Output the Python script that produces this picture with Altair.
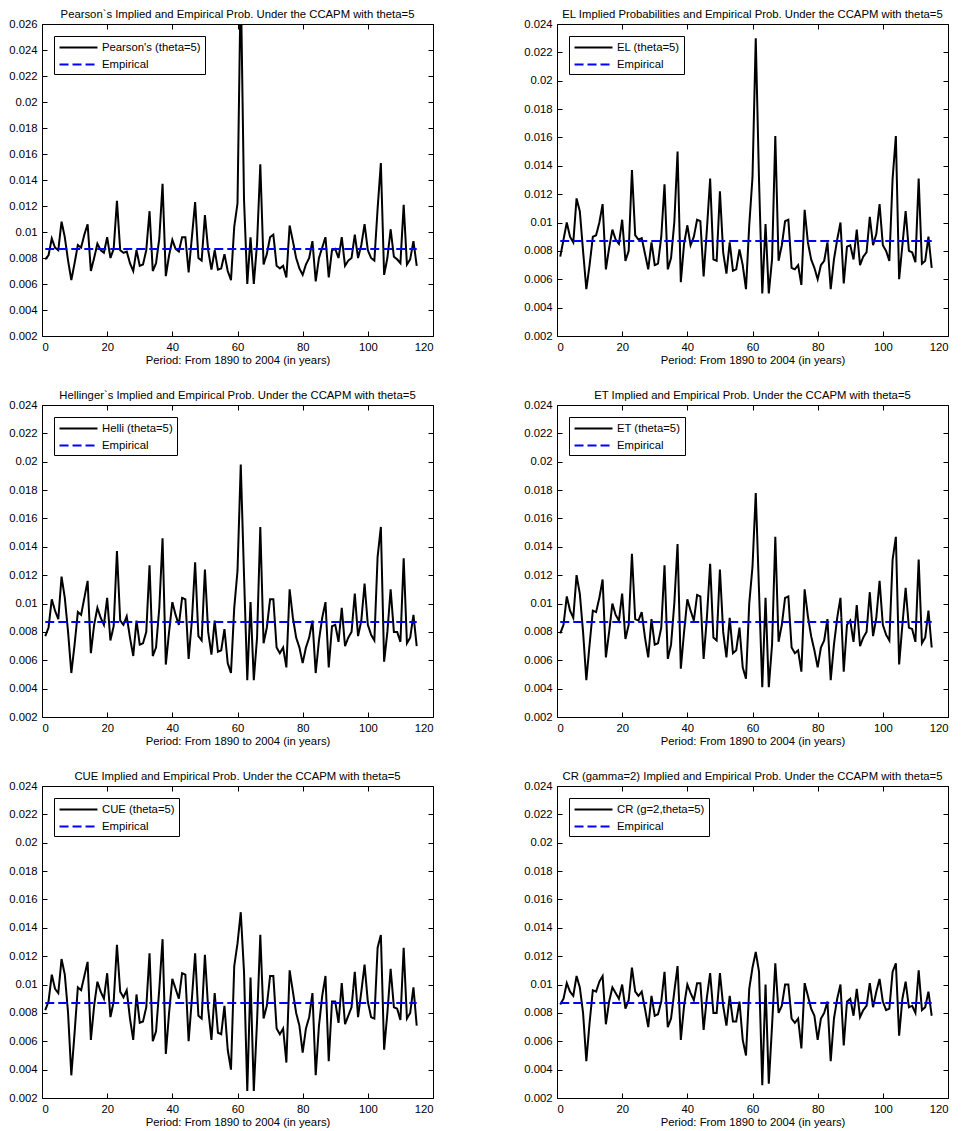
import altair as alt
import pandas as pd

YEARS = list(range(1, 116))
EMP_X = [1, 115]
EMP_P = [0.0087, 0.0087]
X_TICKS = [0, 20, 40, 60, 80, 100, 120]
Y_TICKS_26 = [0.002, 0.004, 0.006, 0.008, 0.010, 0.012, 0.014, 0.016, 0.018, 0.020, 0.022, 0.024, 0.026]
Y_TICKS_24 = Y_TICKS_26[:-1]

PEARSON = [0.0079, 0.0082, 0.0095, 0.0088, 0.0086, 0.0108, 0.0096, 0.0078, 0.0063, 0.0076,
           0.0090, 0.0088, 0.0098, 0.0106, 0.0070, 0.0080, 0.0091, 0.0086, 0.0084, 0.0096,
           0.0080, 0.0087, 0.0124, 0.0086, 0.0084, 0.0085, 0.0076, 0.0070, 0.0086, 0.0074,
           0.0075, 0.0086, 0.0116, 0.0070, 0.0076, 0.0095, 0.0137, 0.0066, 0.0082, 0.0094,
           0.0087, 0.0085, 0.0096, 0.0096, 0.0069, 0.0096, 0.0123, 0.0080, 0.0078, 0.0113,
           0.0086, 0.0071, 0.0086, 0.0071, 0.0072, 0.0083, 0.0070, 0.0063, 0.0104, 0.0122,
           0.0295, 0.0125, 0.0060, 0.0096, 0.0060, 0.0091, 0.0152, 0.0075, 0.0083, 0.0096,
           0.0098, 0.0074, 0.0072, 0.0074, 0.0065, 0.0105, 0.0093, 0.0080, 0.0072, 0.0067,
           0.0075, 0.0080, 0.0093, 0.0062, 0.0080, 0.0088, 0.0096, 0.0065, 0.0086, 0.0087,
           0.0080, 0.0096, 0.0074, 0.0078, 0.0080, 0.0098, 0.0080, 0.0090, 0.0106, 0.0086,
           0.0080, 0.0078, 0.0118, 0.0153, 0.0067, 0.0080, 0.0102, 0.0081, 0.0079, 0.0076,
           0.0121, 0.0075, 0.0079, 0.0093, 0.0074]

EL = [0.0076, 0.0088, 0.0100, 0.0090, 0.0086, 0.0117, 0.0108, 0.0080, 0.0053, 0.0070,
      0.0090, 0.0091, 0.0100, 0.0113, 0.0067, 0.0082, 0.0095, 0.0088, 0.0085, 0.0102,
      0.0073, 0.0080, 0.0137, 0.0091, 0.0088, 0.0089, 0.0078, 0.0067, 0.0086, 0.0070,
      0.0071, 0.0090, 0.0127, 0.0067, 0.0075, 0.0100, 0.0150, 0.0058, 0.0085, 0.0098,
      0.0084, 0.0090, 0.0102, 0.0101, 0.0062, 0.0095, 0.0131, 0.0074, 0.0073, 0.0122,
      0.0079, 0.0064, 0.0086, 0.0066, 0.0067, 0.0081, 0.0070, 0.0053, 0.0098, 0.0132,
      0.0230, 0.0130, 0.0050, 0.0099, 0.0050, 0.0074, 0.0161, 0.0073, 0.0084, 0.0101,
      0.0102, 0.0068, 0.0067, 0.0070, 0.0056, 0.0109, 0.0086, 0.0074, 0.0068, 0.0060,
      0.0070, 0.0073, 0.0086, 0.0053, 0.0074, 0.0088, 0.0100, 0.0057, 0.0083, 0.0084,
      0.0074, 0.0095, 0.0070, 0.0076, 0.0079, 0.0104, 0.0084, 0.0092, 0.0113, 0.0084,
      0.0080, 0.0073, 0.0131, 0.0161, 0.0060, 0.0084, 0.0108, 0.0080, 0.0079, 0.0072,
      0.0131, 0.0071, 0.0073, 0.0090, 0.0068]

HELLI = [0.0077, 0.0083, 0.0103, 0.0095, 0.0089, 0.0119, 0.0104, 0.0080, 0.0051, 0.0071,
         0.0094, 0.0092, 0.0104, 0.0116, 0.0065, 0.0085, 0.0097, 0.0090, 0.0085, 0.0104,
         0.0074, 0.0084, 0.0137, 0.0088, 0.0085, 0.0091, 0.0076, 0.0063, 0.0088, 0.0071,
         0.0072, 0.0080, 0.0127, 0.0063, 0.0069, 0.0097, 0.0146, 0.0057, 0.0080, 0.0101,
         0.0092, 0.0085, 0.0104, 0.0103, 0.0061, 0.0088, 0.0129, 0.0077, 0.0074, 0.0124,
         0.0080, 0.0064, 0.0088, 0.0066, 0.0067, 0.0082, 0.0058, 0.0051, 0.0097, 0.0123,
         0.0198, 0.0120, 0.0046, 0.0101, 0.0046, 0.0076, 0.0154, 0.0072, 0.0083, 0.0103,
         0.0103, 0.0069, 0.0065, 0.0069, 0.0055, 0.0110, 0.0090, 0.0076, 0.0069, 0.0058,
         0.0069, 0.0076, 0.0088, 0.0051, 0.0074, 0.0090, 0.0101, 0.0055, 0.0084, 0.0085,
         0.0073, 0.0097, 0.0070, 0.0076, 0.0080, 0.0107, 0.0077, 0.0088, 0.0114, 0.0085,
         0.0078, 0.0074, 0.0133, 0.0154, 0.0059, 0.0080, 0.0110, 0.0080, 0.0080, 0.0073,
         0.0132, 0.0072, 0.0076, 0.0092, 0.0070]

ET = [0.0079, 0.0085, 0.0105, 0.0095, 0.0090, 0.0120, 0.0107, 0.0080, 0.0046, 0.0071,
      0.0095, 0.0094, 0.0104, 0.0117, 0.0062, 0.0080, 0.0100, 0.0092, 0.0088, 0.0107,
      0.0075, 0.0085, 0.0135, 0.0089, 0.0088, 0.0094, 0.0076, 0.0062, 0.0089, 0.0071,
      0.0072, 0.0083, 0.0127, 0.0061, 0.0071, 0.0100, 0.0142, 0.0054, 0.0080, 0.0103,
      0.0095, 0.0088, 0.0106, 0.0105, 0.0061, 0.0090, 0.0128, 0.0076, 0.0074, 0.0124,
      0.0080, 0.0062, 0.0090, 0.0065, 0.0067, 0.0083, 0.0055, 0.0047, 0.0100, 0.0126,
      0.0178, 0.0109, 0.0041, 0.0104, 0.0041, 0.0071, 0.0147, 0.0073, 0.0085, 0.0104,
      0.0105, 0.0069, 0.0065, 0.0067, 0.0052, 0.0110, 0.0091, 0.0077, 0.0067, 0.0055,
      0.0069, 0.0074, 0.0089, 0.0046, 0.0071, 0.0090, 0.0104, 0.0052, 0.0085, 0.0088,
      0.0073, 0.0099, 0.0070, 0.0076, 0.0080, 0.0108, 0.0077, 0.0090, 0.0116, 0.0085,
      0.0078, 0.0074, 0.0131, 0.0147, 0.0057, 0.0085, 0.0111, 0.0083, 0.0082, 0.0073,
      0.0131, 0.0072, 0.0076, 0.0095, 0.0069]

CUE = [0.0082, 0.0088, 0.0107, 0.0097, 0.0094, 0.0118, 0.0107, 0.0080, 0.0036, 0.0066,
       0.0098, 0.0096, 0.0106, 0.0116, 0.0061, 0.0085, 0.0102, 0.0095, 0.0090, 0.0108,
       0.0077, 0.0088, 0.0128, 0.0095, 0.0091, 0.0096, 0.0076, 0.0061, 0.0093, 0.0073,
       0.0074, 0.0084, 0.0122, 0.0060, 0.0067, 0.0097, 0.0132, 0.0051, 0.0080, 0.0104,
       0.0097, 0.0090, 0.0108, 0.0107, 0.0060, 0.0090, 0.0122, 0.0078, 0.0076, 0.0121,
       0.0083, 0.0061, 0.0094, 0.0066, 0.0065, 0.0085, 0.0054, 0.0040, 0.0113, 0.0129,
       0.0151, 0.0109, 0.0025, 0.0105, 0.0025, 0.0074, 0.0135, 0.0076, 0.0085, 0.0106,
       0.0106, 0.0069, 0.0065, 0.0069, 0.0045, 0.0110, 0.0095, 0.0080, 0.0071, 0.0052,
       0.0069, 0.0077, 0.0094, 0.0036, 0.0071, 0.0092, 0.0106, 0.0046, 0.0088, 0.0088,
       0.0073, 0.0101, 0.0072, 0.0078, 0.0084, 0.0109, 0.0077, 0.0095, 0.0114, 0.0088,
       0.0077, 0.0076, 0.0126, 0.0135, 0.0054, 0.0080, 0.0111, 0.0084, 0.0083, 0.0075,
       0.0126, 0.0076, 0.0080, 0.0098, 0.0071]

CR = [0.0086, 0.0090, 0.0101, 0.0095, 0.0092, 0.0106, 0.0098, 0.0080, 0.0046, 0.0073,
      0.0096, 0.0095, 0.0102, 0.0106, 0.0072, 0.0088, 0.0098, 0.0094, 0.0090, 0.0100,
      0.0083, 0.0089, 0.0112, 0.0095, 0.0092, 0.0095, 0.0083, 0.0070, 0.0092, 0.0078,
      0.0079, 0.0088, 0.0109, 0.0070, 0.0076, 0.0095, 0.0113, 0.0061, 0.0085, 0.0100,
      0.0094, 0.0089, 0.0101, 0.0101, 0.0068, 0.0091, 0.0108, 0.0080, 0.0080, 0.0108,
      0.0085, 0.0071, 0.0092, 0.0074, 0.0074, 0.0088, 0.0061, 0.0050, 0.0097, 0.0112,
      0.0123, 0.0109, 0.0029, 0.0100, 0.0030, 0.0071, 0.0115, 0.0080, 0.0085, 0.0100,
      0.0100, 0.0076, 0.0073, 0.0076, 0.0055, 0.0101, 0.0092, 0.0083, 0.0078, 0.0061,
      0.0076, 0.0080, 0.0088, 0.0046, 0.0076, 0.0090, 0.0100, 0.0057, 0.0088, 0.0090,
      0.0078, 0.0097, 0.0077, 0.0082, 0.0085, 0.0101, 0.0084, 0.0095, 0.0104, 0.0088,
      0.0082, 0.0083, 0.0109, 0.0115, 0.0064, 0.0090, 0.0102, 0.0084, 0.0085, 0.0080,
      0.0110, 0.0082, 0.0084, 0.0095, 0.0078]

PANELS = [
    ("Pearson`s Implied and Empirical Prob. Under the CCAPM with theta=5", "Pearson's (theta=5)", PEARSON, Y_TICKS_26),
    ("EL Implied Probabilities and Empirical Prob. Under the CCAPM with theta=5", "EL (theta=5)", EL, Y_TICKS_24),
    ("Hellinger`s Implied and Empirical Prob. Under the CCAPM with theta=5", "Helli (theta=5)", HELLI, Y_TICKS_24),
    ("ET Implied and Empirical Prob. Under the CCAPM with theta=5", "ET (theta=5)", ET, Y_TICKS_24),
    ("CUE Implied and Empirical Prob. Under the CCAPM with theta=5", "CUE (theta=5)", CUE, Y_TICKS_24),
    ("CR (gamma=2) Implied and Empirical Prob. Under the CCAPM with theta=5", "CR (g=2,theta=5)", CR, Y_TICKS_24),
]

FONT = "Liberation Sans"
FS = 11.3
X_TITLE = "Period: From 1890 to 2004 (in years)"
W, H = 391, 312


def panel(title, label, values, yticks):
    df = pd.DataFrame({
        "t": YEARS + EMP_X,
        "p": values + EMP_P,
        "s": [label] * len(YEARS) + ["Empirical"] * len(EMP_X),
        "k": list(range(len(YEARS))) + [1000, 1001],
    })
    xs = alt.Scale(domain=[0, 120], nice=False)
    ys = alt.Scale(domain=[yticks[0], yticks[-1]], nice=False, zero=False)
    leg = alt.Legend(title=None, orient="top-left", offset=12, symbolType="M-3,0H3",
                     symbolSize=160, symbolStrokeWidth=2, symbolOffset=13,
                     labelFontSize=FS, labelFont=FONT, labelOffset=16,
                     labelColor="black", strokeColor="black", fillColor="white",
                     padding=4, rowPadding=4, cornerRadius=0)
    lines = alt.Chart(df).mark_line(strokeWidth=2, clip=True).encode(
        x=alt.X("t:Q", scale=xs, axis=alt.Axis(values=X_TICKS, title=X_TITLE, tickSize=5,
                                                  offset=-5, labelPadding=5, titlePadding=2,
                                                  grid=False)),
        y=alt.Y("p:Q", scale=ys, axis=alt.Axis(values=yticks, format="~g", title=None,
                                                  tickSize=5, offset=-5, labelPadding=5,
                                                  grid=False, minExtent=37, maxExtent=37)),
        color=alt.Color("s:N", scale=alt.Scale(domain=[label, "Empirical"], range=["black", "blue"]),
                        legend=leg),
        strokeDash=alt.StrokeDash("s:N", scale=alt.Scale(domain=[label, "Empirical"],
                                                           range=[[1, 0], [9, 4]]), legend=leg),
        order="k:Q",
    )
    frame = alt.Chart(df).mark_line(opacity=0, clip=True).encode(
        x=alt.X("t:Q", scale=xs, axis=alt.Axis(values=X_TICKS, orient="top", labels=False,
                                                  title=None, tickSize=5, offset=-5, grid=False,
                                                  minExtent=0, maxExtent=0)),
        y=alt.Y("p:Q", scale=ys, axis=alt.Axis(values=yticks, orient="right", labels=False,
                                                  title=None, tickSize=5, offset=-5, grid=False,
                                                  minExtent=0, maxExtent=0)),
    )
    return alt.layer(lines, frame).resolve_axis(x="independent", y="independent").resolve_scale(
        color="independent", strokeDash="independent").properties(
        width=W, height=H, title=alt.TitleParams(title, fontSize=FS, font=FONT,
                                                 fontWeight="normal", color="black", offset=-2))


charts = [panel(*p) for p in PANELS]
rows = [alt.hconcat(charts[i], charts[i + 1], spacing=89).resolve_scale(
    color="independent", strokeDash="independent") for i in (0, 2, 4)]
chart = alt.vconcat(*rows, spacing=22).resolve_scale(
    color="independent", strokeDash="independent").properties(
    padding={"left": 0, "top": 0, "right": 0, "bottom": 0}).configure_view(
    stroke="black", strokeWidth=1).configure_axis(
    domain=False, grid=False, labelFont=FONT, labelFontSize=FS, labelColor="black",
    tickColor="black", titleFont=FONT, titleFontSize=FS, titleFontWeight="normal",
    titleColor="black")

chart.save("out.html", embed_options={"renderer": "svg", "actions": False})
